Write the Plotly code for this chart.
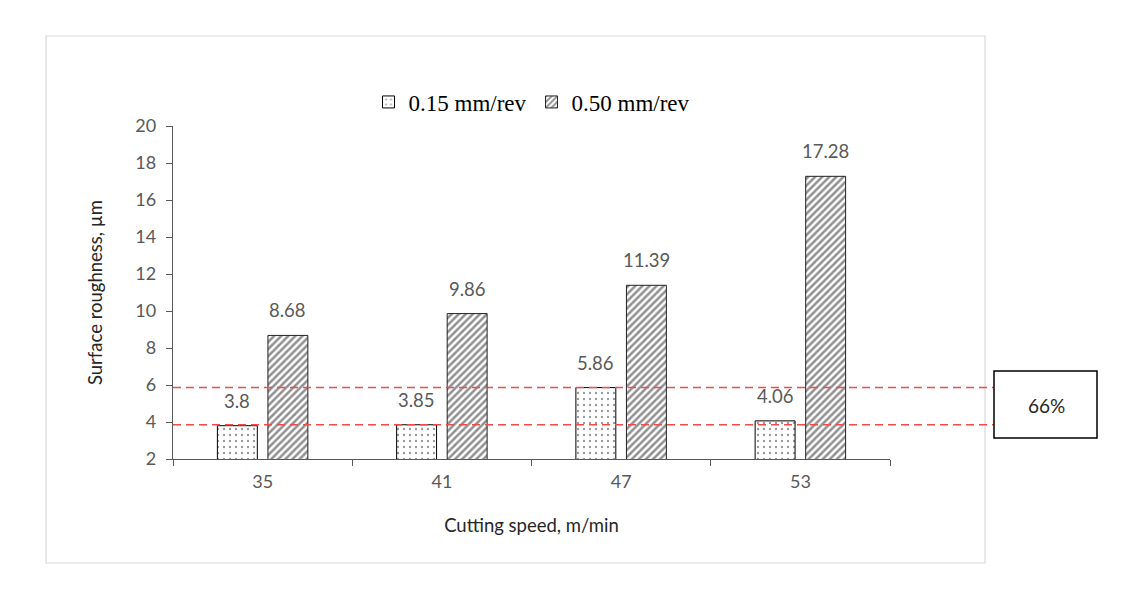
import plotly.graph_objects as go

# ---- data ----
cutting_speed = ["35", "41", "47", "53"]
feed_015 = [3.8, 3.85, 5.86, 4.06]
feed_050 = [8.68, 9.86, 11.39, 17.28]
series_names = ["0.15 mm/rev", "0.50 mm/rev"]
ref_lines = [5.86, 3.85]
ref_label = "66%"
y_ticks = [2, 4, 6, 8, 10, 12, 14, 16, 18, 20]

W, H = 1140, 589
L, R, T, B = 173, 890, 126, 459  # plot area in px


def px_x(p):
    return (p - L) / (R - L)


def px_y(p):
    return (B - p) / (B - T)


sans = "Lato"
grey = "#595959"

fig = go.Figure()
fig.add_trace(go.Bar(
    x=cutting_speed, y=feed_015, name=series_names[0],
    marker=dict(color="white", line=dict(color="black", width=1),
                pattern=dict(shape=".", size=6, solidity=0.12,
                             fgcolor="#333333", bgcolor="white", fillmode="overlay")),
))
fig.add_trace(go.Bar(
    x=cutting_speed, y=feed_050, name=series_names[1],
    marker=dict(color="white", line=dict(color="#222222", width=1),
                pattern=dict(shape="/", size=5, solidity=0.5,
                             fgcolor="#222222", bgcolor="white", fillmode="overlay")),
))

annotations = []
for vals, shift in ((feed_015, -25.3), (feed_050, 25.3)):
    for i, v in enumerate(vals):
        annotations.append(dict(
            x=i, y=v, xref="x", yref="y", text=f"{v:g}", showarrow=False,
            xshift=shift, yshift=12, yanchor="bottom", xanchor="center",
            font=dict(family=sans, size=18.5, color=grey)))

# 66% box text
annotations.append(dict(
    x=px_x(1046), y=px_y(405), xref="paper", yref="paper", text=ref_label,
    showarrow=False, xanchor="center", yanchor="middle",
    font=dict(family=sans, size=19, color="#262626")))

shapes = []
# outer chart border
shapes.append(dict(type="rect", xref="paper", yref="paper",
                   x0=px_x(46), x1=px_x(985), y0=px_y(563), y1=px_y(36),
                   line=dict(color="#d9d9d9", width=1.2), layer="below"))
# red dashed reference lines
for v in ref_lines:
    shapes.append(dict(type="line", xref="paper", yref="y",
                       x0=0, x1=px_x(994), y0=v, y1=v,
                       line=dict(color="#f24a4a", width=1.5, dash="8px,5px"),
                       layer="above"))
# 66% box
shapes.append(dict(type="rect", xref="paper", yref="paper",
                   x0=px_x(994), x1=px_x(1097), y0=px_y(438), y1=px_y(371),
                   line=dict(color="black", width=1.5), fillcolor="white"))

fig.update_layout(
    width=W, height=H,
    margin=dict(l=L, r=W - R, t=T, b=H - B, pad=0),
    paper_bgcolor="white", plot_bgcolor="white",
    barmode="group", bargap=0.436, bargroupgap=0.21,
    showlegend=True,
    legend=dict(orientation="h", x=px_x(532), xanchor="center",
                y=px_y(102), yanchor="middle",
                font=dict(family="Liberation Serif", size=23, color="black"),
                itemwidth=30, tracegroupgap=0, bgcolor="rgba(0,0,0,0)"),
    annotations=annotations,
    shapes=shapes,
    font=dict(family=sans, color=grey),
)
fig.update_xaxes(
    type="category", range=[-0.5, len(cutting_speed) - 0.5],
    showline=True, linecolor=grey, linewidth=1.3,
    ticks="outside", tickson="boundaries", ticklen=6, tickcolor=grey,
    tickfont=dict(family=sans, size=18, color=grey), tickangle=0,
    ticklabelstandoff=6,
    showgrid=False, zeroline=False,
    title=dict(text="Cutting speed, m/min", standoff=28,
               font=dict(family=sans, size=18.5, color="#262626")),
)
fig.update_yaxes(
    range=[2, 20], tickvals=y_ticks, showline=True, linecolor=grey, linewidth=1.3,
    ticks="outside", ticklen=6, tickcolor=grey, ticklabelstandoff=6,
    tickfont=dict(family=sans, size=18, color=grey),
    showgrid=False, zeroline=False,
    title=dict(text="Surface roughness, µm", standoff=27,
               font=dict(family=sans, size=18.5, color="#262626")),
)

fig.write_html("out.html")
